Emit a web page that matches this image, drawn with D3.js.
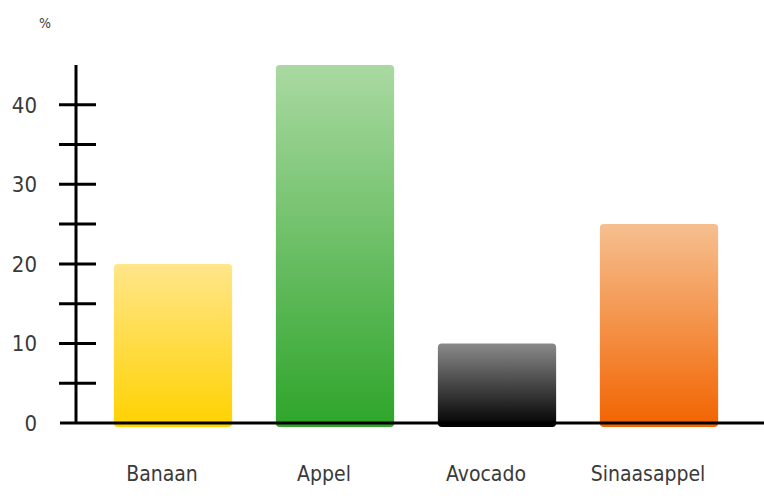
<!DOCTYPE html>
<html>
<head>
<meta charset="utf-8">
<script src="https://cdn.jsdelivr.net/npm/d3@7"></script>
<style>
  body { margin: 0; background: #fff; }
  text { font-family: "DejaVu Sans Condensed", "DejaVu Sans", sans-serif; fill: #3a3a3a; }
</style>
</head>
<body>
<div class="canvas"></div>
<script>
// data
const fruits = ['Banaan', 'Appel', 'Avocado', 'Sinaasappel'];
const percentages = [20, 45, 10, 25];
const majorTicks = [0, 10, 20, 30, 40];
const minorTicks = [5, 15, 25, 35];
const unitLabel = '%';
// gradient colours per bar: [top, bottom]
const barColours = [
  ['#ffe68a', '#ffd200'],
  ['#aad9a2', '#2ea52a'],
  ['#8a8a8a', '#000000'],
  ['#f6bf90', '#f26400']
];

const width = 764;
const height = 496;

const svg = d3.select('.canvas')
  .append('svg')
  .attr('width', width)
  .attr('height', height);

// gradients
const defs = svg.append('defs');
barColours.forEach((c, i) => {
  const g = defs.append('linearGradient')
    .attr('id', 'grad' + i)
    .attr('x1', 0).attr('y1', 0)
    .attr('x2', 0).attr('y2', 1);
  g.append('stop').attr('offset', '0%').attr('stop-color', c[0]);
  g.append('stop').attr('offset', '100%').attr('stop-color', c[1]);
});

// scales
const y = d3.scaleLinear()
  .domain([0, 45])
  .range([423, 65]);

const x = d3.scaleBand()
  .domain(fruits)
  .range([92, 740])
  .paddingInner(0.27)
  .paddingOuter(0.135);

// bars
svg.selectAll('rect.bar')
  .data(percentages)
  .enter()
  .append('rect')
  .attr('class', 'bar')
  .attr('x', (d, i) => x(fruits[i]))
  .attr('y', d => y(d))
  .attr('width', x.bandwidth())
  .attr('height', d => y(0) - y(d) + 4)
  .attr('rx', 4)
  .attr('fill', (d, i) => `url(#grad${i})`);

// x axis line (runs to the right edge)
svg.append('line')
  .attr('x1', 60).attr('x2', width)
  .attr('y1', y(0)).attr('y2', y(0))
  .attr('stroke', '#000')
  .attr('stroke-width', 3);

// y axis line
svg.append('line')
  .attr('x1', 76).attr('x2', 76)
  .attr('y1', y(45)).attr('y2', y(0))
  .attr('stroke', '#000')
  .attr('stroke-width', 3);

// ticks crossing the axis
svg.selectAll('line.tick')
  .data(majorTicks.filter(d => d > 0).concat(minorTicks))
  .enter()
  .append('line')
  .attr('class', 'tick')
  .attr('x1', 59).attr('x2', 96)
  .attr('y1', d => y(d)).attr('y2', d => y(d))
  .attr('stroke', '#000')
  .attr('stroke-width', 3);

// tick labels
svg.selectAll('text.ylab')
  .data(majorTicks)
  .enter()
  .append('text')
  .attr('class', 'ylab')
  .attr('x', 37)
  .attr('y', d => y(d))
  .attr('dy', '0.36em')
  .attr('text-anchor', 'end')
  .attr('font-size', 22)
  .text(d => d);

// category labels
svg.selectAll('text.xlab')
  .data(fruits)
  .enter()
  .append('text')
  .attr('class', 'xlab')
  .attr('x', d => x(d) + x.bandwidth() / 2 - 11)
  .attr('y', 481)
  .attr('text-anchor', 'middle')
  .attr('font-size', 21)
  .text(d => d);

// unit label
svg.append('text')
  .attr('x', 45)
  .attr('y', 28)
  .attr('text-anchor', 'middle')
  .attr('font-size', 14)
  .attr('fill', '#666')
  .text(unitLabel);
</script>
</body>
</html>
